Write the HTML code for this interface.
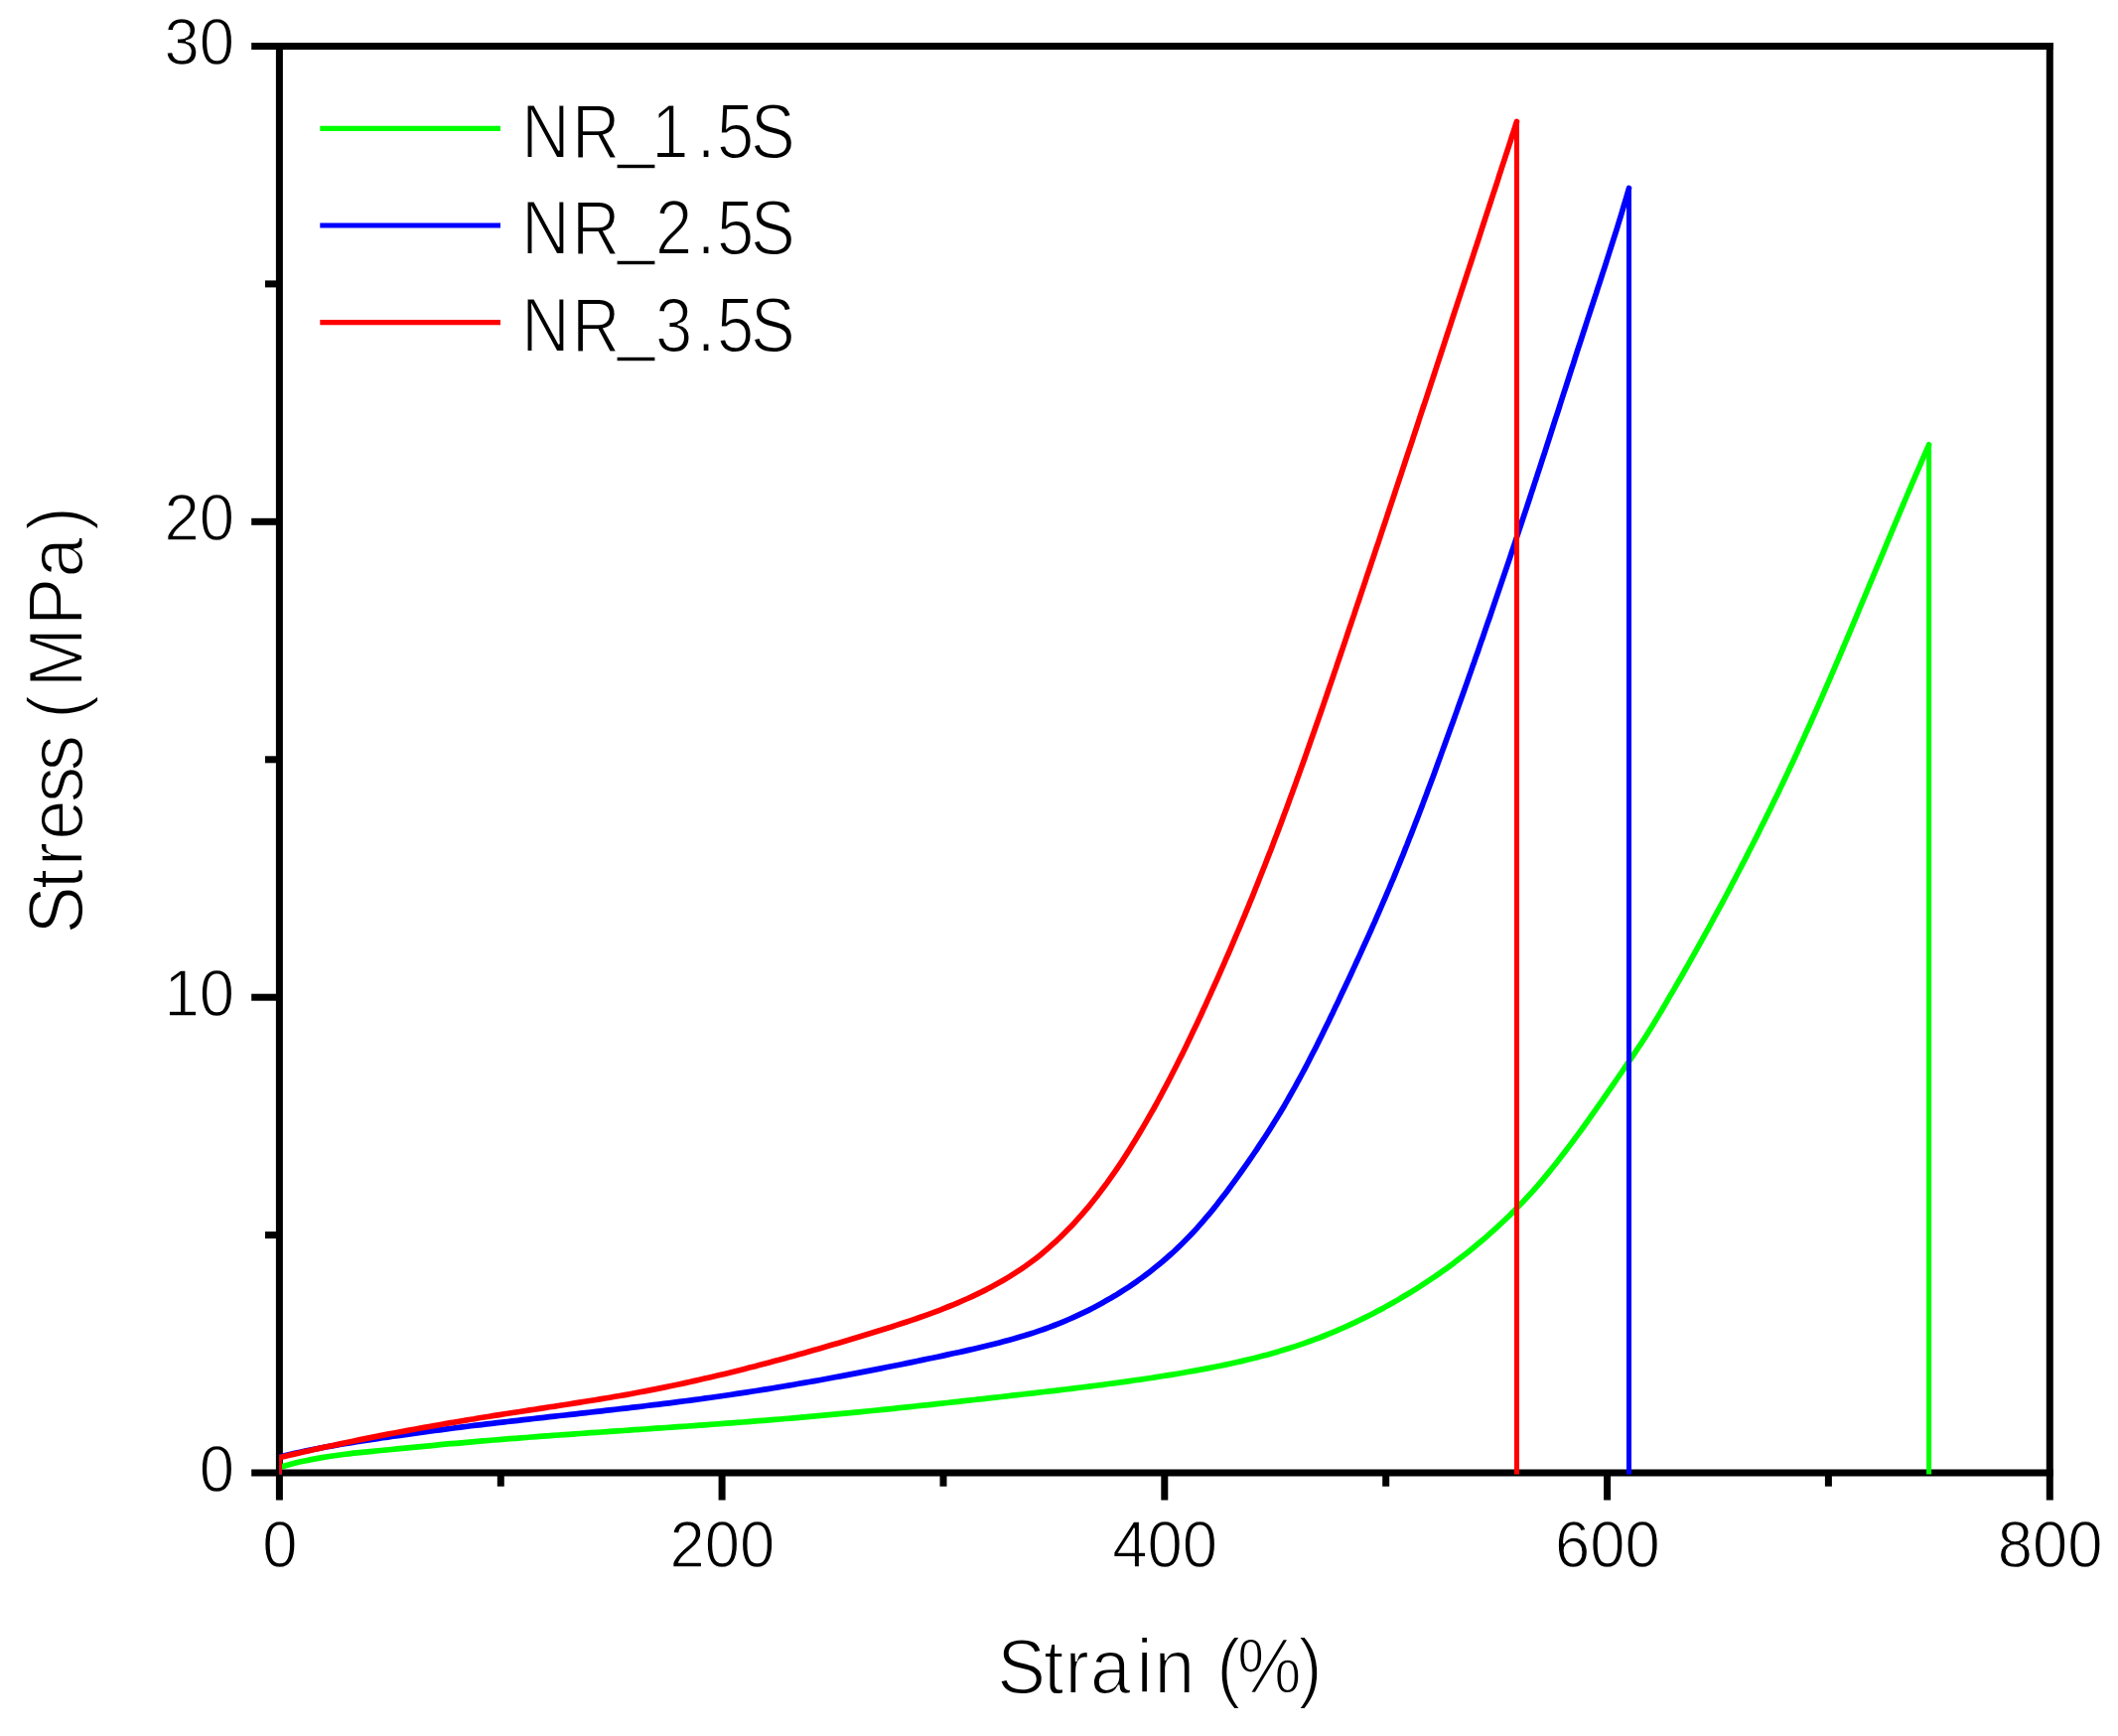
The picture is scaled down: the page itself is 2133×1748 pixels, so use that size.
<!DOCTYPE html>
<html><head><meta charset="utf-8"><title>Stress-Strain</title>
<style>
html,body{margin:0;padding:0;background:#fff;}
body{width:2133px;height:1748px;overflow:hidden;}
svg{display:block;}
text{font-family:"Liberation Sans",sans-serif;fill:#000;}
.tk{font-size:67.3px;stroke:#fff;stroke-width:1.3px;}
.lb{font-size:77px;stroke:#fff;stroke-width:1.8px;}
</style></head><body>
<svg width="2133" height="1748" viewBox="0 0 2133 1748">
<rect width="2133" height="1748" fill="#fff"/>
<g stroke="#000" stroke-width="7" fill="none" stroke-linecap="butt">
<line x1="281.4" y1="43.0" x2="281.4" y2="1510.5"/>
<line x1="2064.3" y1="43.0" x2="2064.3" y2="1510.5"/>
<line x1="253.2" y1="46.5" x2="2067.8" y2="46.5"/>
<line x1="253.2" y1="1483.0" x2="2067.8" y2="1483.0"/>
<line x1="727.1" y1="1483.0" x2="727.1" y2="1510.5"/>
<line x1="1172.8" y1="1483.0" x2="1172.8" y2="1510.5"/>
<line x1="1618.6" y1="1483.0" x2="1618.6" y2="1510.5"/>
<line x1="504.3" y1="1483.0" x2="504.3" y2="1496.7"/>
<line x1="950.0" y1="1483.0" x2="950.0" y2="1496.7"/>
<line x1="1395.7" y1="1483.0" x2="1395.7" y2="1496.7"/>
<line x1="1841.4" y1="1483.0" x2="1841.4" y2="1496.7"/>
<line x1="253.2" y1="1004.2" x2="281.4" y2="1004.2"/>
<line x1="253.2" y1="525.3" x2="281.4" y2="525.3"/>
<line x1="267.0" y1="1243.6" x2="281.4" y2="1243.6"/>
<line x1="267.0" y1="764.8" x2="281.4" y2="764.8"/>
<line x1="267.0" y1="285.9" x2="281.4" y2="285.9"/>
</g>
<clipPath id="cp"><rect x="281.2" y="40" width="1800" height="1444.5"/></clipPath>
<g clip-path="url(#cp)">
<polyline points="281.4,1477.5 286.7,1475.9 292.1,1474.5 297.5,1473.1 302.8,1471.8 308.2,1470.7 313.5,1469.6 318.9,1468.6 324.3,1467.6 329.6,1466.8 335.0,1466.0 340.4,1465.2 345.8,1464.5 351.1,1463.9 356.5,1463.2 361.9,1462.7 367.3,1462.1 372.7,1461.6 378.1,1461.0 383.5,1460.5 388.9,1460.0 394.3,1459.5 399.7,1458.9 405.1,1458.4 410.5,1457.9 415.9,1457.3 421.3,1456.8 426.7,1456.3 432.1,1455.8 437.5,1455.3 442.9,1454.7 448.3,1454.2 453.8,1453.7 459.2,1453.3 464.6,1452.8 470.0,1452.3 475.4,1451.8 480.9,1451.4 486.3,1450.9 491.7,1450.5 497.1,1450.0 502.6,1449.6 508.0,1449.1 513.4,1448.7 518.9,1448.3 524.3,1447.9 529.7,1447.5 535.2,1447.0 540.6,1446.6 546.0,1446.2 551.5,1445.8 556.9,1445.4 562.4,1445.0 567.8,1444.6 573.2,1444.3 578.7,1443.9 584.1,1443.5 589.6,1443.1 595.0,1442.7 600.4,1442.4 605.9,1442.0 611.3,1441.6 616.8,1441.2 622.2,1440.9 627.7,1440.5 633.1,1440.1 638.6,1439.7 644.0,1439.4 649.5,1439.0 654.9,1438.6 660.4,1438.2 665.8,1437.9 671.3,1437.5 676.7,1437.1 682.2,1436.7 687.6,1436.4 693.1,1436.0 698.5,1435.6 704.0,1435.2 709.4,1434.8 714.8,1434.4 720.3,1434.0 725.7,1433.6 731.2,1433.2 736.6,1432.8 742.1,1432.4 747.5,1432.0 753.0,1431.6 758.4,1431.2 763.9,1430.7 769.3,1430.3 774.7,1429.9 780.2,1429.4 785.6,1429.0 791.1,1428.5 796.5,1428.1 801.9,1427.6 807.4,1427.1 812.8,1426.7 818.3,1426.2 823.7,1425.7 829.1,1425.2 834.6,1424.7 840.0,1424.2 845.4,1423.7 850.9,1423.2 856.3,1422.6 861.7,1422.1 867.1,1421.6 872.6,1421.0 878.0,1420.5 883.4,1420.0 888.8,1419.4 894.3,1418.9 899.7,1418.3 905.1,1417.7 910.5,1417.2 916.0,1416.6 921.4,1416.0 926.8,1415.4 932.2,1414.9 937.6,1414.3 943.1,1413.7 948.5,1413.1 953.9,1412.5 959.3,1411.9 964.7,1411.3 970.1,1410.7 975.5,1410.1 981.0,1409.5 986.4,1408.9 991.8,1408.3 997.2,1407.7 1002.6,1407.1 1008.0,1406.5 1013.4,1405.9 1018.8,1405.2 1024.2,1404.6 1029.6,1404.0 1035.0,1403.4 1040.4,1402.8 1045.8,1402.1 1051.2,1401.5 1056.6,1400.9 1062.0,1400.3 1067.4,1399.6 1072.8,1399.0 1078.2,1398.3 1083.6,1397.7 1089.0,1397.0 1094.4,1396.3 1099.8,1395.6 1105.2,1395.0 1110.6,1394.3 1116.0,1393.5 1121.4,1392.8 1126.8,1392.1 1132.2,1391.4 1137.6,1390.6 1143.0,1389.8 1148.4,1389.1 1153.7,1388.3 1159.1,1387.5 1164.5,1386.6 1169.9,1385.8 1175.3,1384.9 1180.7,1384.1 1186.1,1383.2 1191.5,1382.3 1196.8,1381.3 1202.2,1380.4 1207.6,1379.4 1212.9,1378.4 1218.3,1377.4 1223.7,1376.3 1229.0,1375.2 1234.4,1374.1 1239.7,1373.0 1245.0,1371.8 1250.3,1370.6 1255.7,1369.3 1261.0,1368.0 1266.2,1366.7 1271.5,1365.3 1276.8,1363.9 1282.0,1362.4 1287.3,1360.9 1292.5,1359.3 1297.7,1357.7 1302.9,1356.1 1308.1,1354.4 1313.3,1352.6 1318.4,1350.8 1323.5,1348.9 1328.7,1347.0 1333.7,1345.0 1338.8,1342.9 1343.9,1340.8 1348.9,1338.7 1353.9,1336.5 1358.9,1334.2 1363.9,1331.9 1368.8,1329.5 1373.7,1327.1 1378.6,1324.7 1383.5,1322.2 1388.3,1319.6 1393.2,1317.1 1397.9,1314.4 1402.7,1311.8 1407.4,1309.1 1412.1,1306.3 1416.8,1303.5 1421.5,1300.7 1426.1,1297.8 1430.7,1294.9 1435.2,1291.9 1439.8,1288.9 1444.3,1285.9 1448.7,1282.8 1453.2,1279.7 1457.6,1276.6 1462.0,1273.4 1466.3,1270.1 1470.6,1266.8 1474.9,1263.5 1479.1,1260.2 1483.4,1256.7 1487.5,1253.3 1491.7,1249.8 1495.8,1246.3 1499.9,1242.7 1503.9,1239.1 1508.0,1235.4 1511.9,1231.7 1515.9,1228.0 1519.8,1224.2 1523.7,1220.4 1527.5,1216.5 1531.3,1212.6 1535.1,1208.7 1538.8,1204.6 1542.5,1200.6 1546.2,1196.5 1549.8,1192.3 1553.4,1188.1 1556.9,1183.9 1560.4,1179.6 1563.9,1175.3 1567.4,1171.0 1570.8,1166.6 1574.1,1162.3 1577.4,1158.0 1580.7,1153.6 1584.0,1149.3 1587.2,1144.9 1590.4,1140.6 1593.6,1136.2 1596.8,1131.8 1599.9,1127.4 1603.0,1123.0 1606.1,1118.6 1609.2,1114.2 1612.3,1109.8 1615.4,1105.3 1618.5,1100.9 1621.6,1096.4 1624.7,1091.9 1627.7,1087.5 1630.8,1083.0 1633.9,1078.5 1637.0,1073.9 1640.1,1069.4 1643.2,1064.8 1646.3,1060.3 1649.4,1055.7 1652.5,1051.1 1655.5,1046.5 1658.4,1041.9 1661.3,1037.3 1664.2,1032.7 1667.0,1028.1 1669.8,1023.4 1672.6,1018.8 1675.3,1014.1 1678.1,1009.4 1680.8,1004.7 1683.5,1000.1 1686.3,995.4 1689.0,990.7 1691.7,986.0 1694.4,981.3 1697.1,976.5 1699.8,971.8 1702.4,967.1 1705.1,962.3 1707.8,957.6 1710.4,952.9 1713.1,948.1 1715.7,943.3 1718.3,938.6 1721.0,933.8 1723.6,929.0 1726.2,924.2 1728.8,919.4 1731.4,914.6 1734.0,909.8 1736.6,905.0 1739.1,900.2 1741.7,895.3 1744.2,890.5 1746.8,885.7 1749.3,880.8 1751.8,876.0 1754.3,871.1 1756.9,866.3 1759.4,861.4 1761.8,856.5 1764.3,851.7 1766.8,846.8 1769.3,841.9 1771.7,837.0 1774.1,832.1 1776.6,827.2 1779.0,822.3 1781.4,817.4 1783.8,812.5 1786.2,807.6 1788.6,802.7 1791.0,797.8 1793.3,792.9 1795.7,787.9 1798.0,783.0 1800.3,778.1 1802.7,773.1 1805.0,768.2 1807.3,763.2 1809.6,758.3 1811.8,753.3 1814.1,748.4 1816.4,743.4 1818.6,738.4 1820.8,733.5 1823.1,728.5 1825.3,723.5 1827.5,718.6 1829.7,713.6 1831.9,708.6 1834.1,703.6 1836.3,698.6 1838.4,693.6 1840.6,688.6 1842.8,683.7 1844.9,678.7 1847.1,673.7 1849.2,668.7 1851.4,663.7 1853.5,658.7 1855.6,653.6 1857.7,648.6 1859.9,643.6 1862.0,638.6 1864.1,633.6 1866.2,628.6 1868.3,623.6 1870.4,618.6 1872.5,613.5 1874.6,608.5 1876.7,603.5 1878.8,598.5 1880.9,593.5 1883.0,588.4 1885.1,583.4 1887.2,578.4 1889.3,573.4 1891.4,568.3 1893.5,563.3 1895.6,558.3 1897.7,553.3 1899.8,548.2 1901.9,543.2 1904.0,538.2 1906.1,533.2 1908.2,528.1 1910.3,523.1 1912.4,518.1 1914.5,513.1 1916.7,508.0 1918.8,503.0 1920.9,498.0 1923.1,493.0 1925.2,487.9 1927.4,482.9 1929.5,477.9 1931.7,472.9 1933.9,467.9 1936.0,462.8 1938.2,457.8 1940.4,452.8 1942.6,447.8" fill="none" stroke="#00ff00" stroke-width="5.7" stroke-linejoin="round" stroke-linecap="round"/><path d="M281.4,1477.5V1486.0M1942.6,447.8V1486.0" fill="none" stroke="#00ff00" stroke-width="5"/>
<polyline points="281.4,1467.0 286.6,1465.7 291.7,1464.5 296.9,1463.3 302.1,1462.2 307.3,1461.1 312.4,1460.0 317.6,1459.0 322.8,1458.0 328.0,1457.0 333.2,1456.1 338.4,1455.2 343.6,1454.3 348.8,1453.4 354.0,1452.6 359.2,1451.8 364.4,1451.0 369.6,1450.2 374.8,1449.4 380.0,1448.6 385.3,1447.8 390.5,1447.1 395.7,1446.3 400.9,1445.6 406.1,1444.9 411.4,1444.1 416.6,1443.4 421.8,1442.7 427.1,1441.9 432.3,1441.2 437.5,1440.5 442.8,1439.8 448.0,1439.2 453.3,1438.5 458.5,1437.8 463.7,1437.2 469.0,1436.5 474.2,1435.8 479.5,1435.2 484.7,1434.6 490.0,1433.9 495.2,1433.3 500.5,1432.7 505.7,1432.1 511.0,1431.5 516.2,1430.9 521.5,1430.3 526.7,1429.7 532.0,1429.1 537.3,1428.5 542.5,1427.9 547.8,1427.3 553.0,1426.7 558.3,1426.1 563.5,1425.5 568.8,1425.0 574.0,1424.4 579.3,1423.8 584.6,1423.2 589.8,1422.6 595.1,1422.0 600.3,1421.4 605.6,1420.8 610.8,1420.2 616.1,1419.6 621.3,1419.0 626.6,1418.4 631.8,1417.8 637.1,1417.2 642.3,1416.6 647.6,1416.0 652.8,1415.3 658.1,1414.7 663.3,1414.1 668.6,1413.4 673.8,1412.8 679.1,1412.1 684.3,1411.4 689.5,1410.7 694.8,1410.1 700.0,1409.4 705.2,1408.7 710.5,1407.9 715.7,1407.2 720.9,1406.5 726.2,1405.7 731.4,1405.0 736.6,1404.2 741.8,1403.4 747.1,1402.7 752.3,1401.9 757.5,1401.0 762.7,1400.2 767.9,1399.4 773.1,1398.6 778.3,1397.7 783.5,1396.9 788.7,1396.0 793.9,1395.1 799.2,1394.2 804.4,1393.3 809.6,1392.4 814.8,1391.5 819.9,1390.6 825.1,1389.7 830.3,1388.7 835.5,1387.8 840.7,1386.8 845.9,1385.9 851.1,1384.9 856.3,1383.9 861.5,1382.9 866.7,1381.9 871.9,1380.9 877.1,1379.9 882.2,1378.9 887.4,1377.9 892.6,1376.8 897.8,1375.8 903.0,1374.8 908.2,1373.7 913.4,1372.6 918.5,1371.6 923.7,1370.5 928.9,1369.4 934.1,1368.3 939.3,1367.3 944.4,1366.2 949.6,1365.1 954.8,1363.9 960.0,1362.8 965.2,1361.7 970.3,1360.6 975.5,1359.4 980.7,1358.2 985.8,1357.0 991.0,1355.8 996.1,1354.6 1001.3,1353.3 1006.4,1352.0 1011.5,1350.6 1016.6,1349.2 1021.7,1347.8 1026.7,1346.3 1031.8,1344.8 1036.8,1343.2 1041.9,1341.6 1046.9,1339.9 1051.8,1338.2 1056.8,1336.4 1061.7,1334.5 1066.6,1332.6 1071.5,1330.6 1076.4,1328.5 1081.2,1326.4 1086.0,1324.2 1090.8,1321.9 1095.6,1319.6 1100.3,1317.2 1105.0,1314.7 1109.6,1312.2 1114.2,1309.6 1118.8,1307.0 1123.4,1304.3 1127.9,1301.5 1132.3,1298.7 1136.8,1295.8 1141.1,1292.8 1145.5,1289.8 1149.8,1286.7 1154.0,1283.6 1158.2,1280.4 1162.4,1277.1 1166.5,1273.8 1170.5,1270.5 1174.5,1267.0 1178.5,1263.5 1182.4,1260.0 1186.2,1256.4 1190.0,1252.7 1193.7,1249.0 1197.4,1245.3 1201.0,1241.5 1204.6,1237.6 1208.1,1233.7 1211.6,1229.7 1215.0,1225.7 1218.4,1221.7 1221.7,1217.6 1225.0,1213.5 1228.2,1209.3 1231.5,1205.1 1234.7,1200.9 1237.8,1196.7 1241.0,1192.4 1244.1,1188.1 1247.2,1183.8 1250.3,1179.5 1253.4,1175.1 1256.4,1170.8 1259.5,1166.4 1262.5,1162.0 1265.5,1157.6 1268.4,1153.1 1271.4,1148.7 1274.3,1144.3 1277.2,1139.8 1280.0,1135.3 1282.8,1130.8 1285.6,1126.3 1288.4,1121.8 1291.1,1117.2 1293.8,1112.7 1296.4,1108.1 1299.0,1103.5 1301.6,1098.9 1304.2,1094.3 1306.7,1089.7 1309.2,1085.1 1311.7,1080.5 1314.2,1075.8 1316.6,1071.2 1319.0,1066.5 1321.4,1061.8 1323.8,1057.2 1326.2,1052.5 1328.5,1047.8 1330.9,1043.0 1333.2,1038.3 1335.5,1033.6 1337.8,1028.9 1340.1,1024.1 1342.4,1019.4 1344.6,1014.6 1346.9,1009.9 1349.2,1005.1 1351.4,1000.3 1353.7,995.5 1355.9,990.8 1358.2,986.0 1360.4,981.2 1362.6,976.4 1364.8,971.6 1367.0,966.8 1369.3,961.9 1371.4,957.1 1373.6,952.3 1375.8,947.5 1378.0,942.6 1380.2,937.8 1382.3,932.9 1384.5,928.1 1386.6,923.2 1388.7,918.4 1390.8,913.5 1392.9,908.7 1395.0,903.8 1397.1,898.9 1399.2,894.0 1401.2,889.1 1403.3,884.3 1405.3,879.4 1407.3,874.5 1409.3,869.6 1411.3,864.7 1413.3,859.8 1415.2,854.9 1417.2,850.0 1419.1,845.0 1421.1,840.1 1423.0,835.2 1424.9,830.3 1426.8,825.4 1428.7,820.4 1430.6,815.5 1432.5,810.6 1434.3,805.6 1436.2,800.7 1438.0,795.8 1439.9,790.8 1441.7,785.9 1443.6,780.9 1445.4,776.0 1447.2,771.0 1449.0,766.1 1450.8,761.1 1452.6,756.1 1454.4,751.2 1456.2,746.2 1458.0,741.3 1459.8,736.3 1461.6,731.3 1463.4,726.4 1465.2,721.4 1467.0,716.4 1468.7,711.5 1470.5,706.5 1472.3,701.5 1474.1,696.5 1475.8,691.6 1477.6,686.6 1479.3,681.6 1481.1,676.6 1482.8,671.6 1484.6,666.7 1486.3,661.7 1488.1,656.7 1489.8,651.7 1491.5,646.7 1493.3,641.7 1495.0,636.7 1496.7,631.7 1498.4,626.7 1500.2,621.7 1501.9,616.7 1503.6,611.7 1505.3,606.7 1507.0,601.7 1508.7,596.7 1510.4,591.7 1512.1,586.7 1513.8,581.7 1515.5,576.7 1517.2,571.7 1518.9,566.7 1520.6,561.7 1522.2,556.7 1523.9,551.7 1525.6,546.7 1527.3,541.7 1528.9,536.7 1530.6,531.6 1532.3,526.6 1533.9,521.6 1535.6,516.6 1537.3,511.6 1538.9,506.6 1540.6,501.5 1542.2,496.5 1543.9,491.5 1545.5,486.5 1547.2,481.5 1548.8,476.4 1550.5,471.4 1552.1,466.4 1553.7,461.4 1555.4,456.3 1557.0,451.3 1558.6,446.3 1560.3,441.2 1561.9,436.2 1563.5,431.2 1565.1,426.2 1566.7,421.1 1568.4,416.1 1570.0,411.1 1571.6,406.0 1573.2,401.0 1574.8,396.0 1576.5,390.9 1578.1,385.9 1579.7,380.9 1581.3,375.8 1582.9,370.8 1584.6,365.8 1586.2,360.7 1587.8,355.7 1589.4,350.7 1591.1,345.6 1592.7,340.6 1594.3,335.6 1596.0,330.5 1597.6,325.5 1599.2,320.5 1600.9,315.4 1602.5,310.4 1604.2,305.3 1605.8,300.3 1607.5,295.3 1609.1,290.2 1610.8,285.2 1612.4,280.2 1614.0,275.1 1615.7,270.1 1617.3,265.1 1618.9,260.0 1620.5,255.0 1622.1,249.9 1623.7,244.9 1625.3,239.9 1626.9,234.8 1628.5,229.8 1630.0,224.8 1631.6,219.7 1633.1,214.7 1634.6,209.6 1636.1,204.6 1637.6,199.6 1639.1,194.5 1640.5,189.5" fill="none" stroke="#0000ff" stroke-width="5.7" stroke-linejoin="round" stroke-linecap="round"/><path d="M281.4,1467.0V1486.0M1640.5,189.5V1486.0" fill="none" stroke="#0000ff" stroke-width="5"/>
<polyline points="281.4,1467.6 286.4,1466.4 291.4,1465.2 296.4,1464.1 301.4,1462.9 306.4,1461.8 311.4,1460.7 316.4,1459.5 321.4,1458.4 326.4,1457.3 331.4,1456.3 336.5,1455.2 341.5,1454.1 346.5,1453.0 351.5,1452.0 356.5,1451.0 361.6,1449.9 366.6,1448.9 371.6,1447.9 376.7,1446.9 381.7,1445.9 386.7,1444.9 391.8,1443.9 396.8,1443.0 401.9,1442.0 406.9,1441.1 411.9,1440.1 417.0,1439.2 422.0,1438.3 427.1,1437.4 432.1,1436.5 437.2,1435.6 442.2,1434.7 447.3,1433.8 452.3,1432.9 457.4,1432.1 462.4,1431.2 467.5,1430.4 472.5,1429.5 477.6,1428.7 482.6,1427.8 487.7,1427.0 492.7,1426.2 497.8,1425.4 502.9,1424.6 507.9,1423.8 513.0,1423.0 518.0,1422.2 523.1,1421.5 528.1,1420.7 533.2,1419.9 538.2,1419.2 543.3,1418.4 548.4,1417.6 553.4,1416.8 558.5,1416.1 563.5,1415.3 568.6,1414.5 573.6,1413.7 578.7,1412.9 583.7,1412.1 588.8,1411.3 593.8,1410.5 598.9,1409.7 603.9,1408.9 609.0,1408.0 614.0,1407.2 619.1,1406.3 624.1,1405.5 629.2,1404.6 634.2,1403.7 639.2,1402.7 644.3,1401.8 649.3,1400.9 654.3,1399.9 659.4,1398.9 664.4,1397.9 669.4,1396.9 674.5,1395.8 679.5,1394.8 684.5,1393.7 689.6,1392.6 694.6,1391.5 699.6,1390.4 704.6,1389.3 709.6,1388.1 714.6,1387.0 719.7,1385.8 724.7,1384.6 729.7,1383.4 734.7,1382.2 739.7,1380.9 744.7,1379.7 749.7,1378.4 754.7,1377.1 759.6,1375.9 764.6,1374.6 769.6,1373.3 774.6,1371.9 779.6,1370.6 784.6,1369.3 789.5,1367.9 794.5,1366.5 799.5,1365.2 804.4,1363.8 809.4,1362.4 814.3,1361.0 819.3,1359.6 824.2,1358.2 829.2,1356.7 834.1,1355.3 839.1,1353.8 844.0,1352.4 848.9,1350.9 853.8,1349.5 858.8,1348.0 863.7,1346.5 868.6,1345.0 873.5,1343.5 878.4,1342.0 883.2,1340.5 888.1,1339.0 893.0,1337.5 897.9,1336.0 902.7,1334.4 907.6,1332.8 912.4,1331.2 917.2,1329.6 922.1,1328.0 926.9,1326.3 931.7,1324.6 936.5,1322.9 941.3,1321.1 946.1,1319.3 950.9,1317.4 955.6,1315.5 960.4,1313.6 965.1,1311.6 969.8,1309.5 974.5,1307.5 979.2,1305.3 983.8,1303.1 988.5,1300.9 993.1,1298.6 997.6,1296.2 1002.1,1293.8 1006.6,1291.3 1011.1,1288.7 1015.5,1286.1 1019.8,1283.4 1024.1,1280.7 1028.4,1277.9 1032.6,1275.0 1036.7,1272.0 1040.8,1269.0 1044.8,1265.9 1048.8,1262.7 1052.7,1259.4 1056.5,1256.1 1060.3,1252.7 1064.1,1249.3 1067.8,1245.8 1071.4,1242.2 1075.0,1238.6 1078.6,1234.9 1082.1,1231.2 1085.5,1227.4 1088.9,1223.6 1092.3,1219.7 1095.6,1215.8 1098.9,1211.8 1102.1,1207.8 1105.3,1203.7 1108.4,1199.6 1111.5,1195.5 1114.6,1191.4 1117.6,1187.2 1120.6,1182.9 1123.6,1178.7 1126.5,1174.4 1129.4,1170.1 1132.2,1165.7 1135.0,1161.4 1137.8,1157.0 1140.5,1152.6 1143.2,1148.2 1145.9,1143.8 1148.6,1139.3 1151.2,1134.9 1153.8,1130.4 1156.4,1125.9 1158.9,1121.4 1161.5,1117.0 1164.0,1112.5 1166.4,1108.0 1168.9,1103.5 1171.3,1098.9 1173.7,1094.4 1176.1,1089.9 1178.5,1085.3 1180.8,1080.8 1183.1,1076.3 1185.4,1071.7 1187.7,1067.1 1190.0,1062.6 1192.3,1058.0 1194.5,1053.4 1196.7,1048.8 1198.9,1044.2 1201.1,1039.6 1203.3,1035.0 1205.5,1030.4 1207.7,1025.8 1209.8,1021.2 1211.9,1016.5 1214.1,1011.9 1216.2,1007.2 1218.3,1002.6 1220.4,997.9 1222.5,993.3 1224.6,988.6 1226.7,984.0 1228.7,979.3 1230.8,974.6 1232.9,969.9 1234.9,965.2 1237.0,960.5 1239.0,955.8 1241.0,951.1 1243.0,946.4 1245.0,941.7 1247.0,937.0 1249.0,932.3 1251.0,927.5 1253.0,922.8 1254.9,918.1 1256.9,913.3 1258.8,908.6 1260.8,903.8 1262.7,899.1 1264.6,894.3 1266.5,889.6 1268.4,884.8 1270.3,880.0 1272.2,875.3 1274.1,870.5 1275.9,865.7 1277.8,860.9 1279.7,856.2 1281.5,851.4 1283.3,846.6 1285.2,841.8 1287.0,837.0 1288.8,832.2 1290.6,827.4 1292.4,822.6 1294.2,817.8 1296.0,812.9 1297.8,808.1 1299.5,803.3 1301.3,798.5 1303.0,793.7 1304.8,788.9 1306.5,784.0 1308.3,779.2 1310.0,774.4 1311.8,769.5 1313.5,764.7 1315.2,759.9 1316.9,755.0 1318.6,750.2 1320.3,745.3 1322.0,740.5 1323.7,735.7 1325.4,730.8 1327.1,726.0 1328.8,721.1 1330.5,716.3 1332.2,711.4 1333.8,706.6 1335.5,701.7 1337.2,696.8 1338.8,692.0 1340.5,687.1 1342.2,682.3 1343.8,677.4 1345.5,672.6 1347.1,667.7 1348.8,662.8 1350.4,658.0 1352.1,653.1 1353.7,648.3 1355.4,643.4 1357.0,638.5 1358.6,633.7 1360.3,628.8 1361.9,623.9 1363.6,619.1 1365.2,614.2 1366.8,609.4 1368.5,604.5 1370.1,599.6 1371.7,594.8 1373.4,589.9 1375.0,585.1 1376.6,580.2 1378.3,575.3 1379.9,570.5 1381.5,565.6 1383.2,560.7 1384.8,555.9 1386.4,551.0 1388.1,546.2 1389.7,541.3 1391.3,536.4 1392.9,531.6 1394.6,526.7 1396.2,521.9 1397.8,517.0 1399.4,512.1 1401.0,507.3 1402.7,502.4 1404.3,497.5 1405.9,492.7 1407.5,487.8 1409.1,483.0 1410.8,478.1 1412.4,473.2 1414.0,468.4 1415.6,463.5 1417.2,458.6 1418.8,453.8 1420.5,448.9 1422.1,444.1 1423.7,439.2 1425.3,434.3 1426.9,429.5 1428.5,424.6 1430.1,419.7 1431.7,414.9 1433.3,410.0 1435.0,405.1 1436.6,400.3 1438.2,395.4 1439.8,390.6 1441.4,385.7 1443.0,380.8 1444.6,376.0 1446.2,371.1 1447.8,366.2 1449.4,361.4 1451.0,356.5 1452.6,351.6 1454.2,346.8 1455.8,341.9 1457.4,337.0 1459.0,332.2 1460.6,327.3 1462.2,322.4 1463.8,317.5 1465.4,312.7 1467.0,307.8 1468.6,302.9 1470.2,298.1 1471.8,293.2 1473.4,288.3 1475.0,283.5 1476.6,278.6 1478.2,273.7 1479.8,268.8 1481.4,264.0 1483.0,259.1 1484.6,254.2 1486.2,249.4 1487.8,244.5 1489.4,239.6 1491.0,234.7 1492.5,229.9 1494.1,225.0 1495.7,220.1 1497.3,215.2 1498.9,210.4 1500.5,205.5 1502.1,200.6 1503.7,195.7 1505.3,190.8 1506.9,186.0 1508.5,181.1 1510.0,176.2 1511.6,171.3 1513.2,166.4 1514.8,161.6 1516.4,156.7 1518.0,151.8 1519.6,146.9 1521.2,142.0 1522.7,137.2 1524.3,132.3 1525.9,127.4 1527.5,122.5" fill="none" stroke="#ff0000" stroke-width="5.7" stroke-linejoin="round" stroke-linecap="round"/><path d="M281.4,1467.6V1486.0M1527.5,122.5V1486.0" fill="none" stroke="#ff0000" stroke-width="5"/>
</g>
<text class="tk" transform="translate(281.8,1578) scale(0.942,1)" text-anchor="middle">0</text>
<text class="tk" transform="translate(727.5,1578) scale(0.942,1)" text-anchor="middle">200</text>
<text class="tk" transform="translate(1173.2,1578) scale(0.942,1)" text-anchor="middle">400</text>
<text class="tk" transform="translate(1619.0,1578) scale(0.942,1)" text-anchor="middle">600</text>
<text class="tk" transform="translate(2064.7,1578) scale(0.942,1)" text-anchor="middle">800</text>
<text class="tk" transform="translate(236,1501.8) scale(0.942,1)" text-anchor="end">0</text>
<text class="tk" transform="translate(236,1023.0) scale(0.942,1)" text-anchor="end">10</text>
<text class="tk" transform="translate(236,544.1) scale(0.942,1)" text-anchor="end">20</text>
<text class="tk" transform="translate(236,65.3) scale(0.942,1)" text-anchor="end">30</text>
<text class="lb" transform="translate(0,1705) scale(0.95,1)" x="1057.2 1106.2 1129.0 1155.9 1204.7 1223.6 1260.6 1289.7 1311.3 1376.0">Strain (%)</text>
<text class="lb" transform="translate(83.3,0) rotate(-90) scale(0.94,1)" x="-1000.6 -952.1 -927.7 -899.7 -859.5 -825.9 -790.9 -770.0 -736.5 -670.3 -618.7 -568.3">Stress (MPa)</text>
<line x1="322.3" y1="129.4" x2="504" y2="129.4" stroke="#00ff00" stroke-width="5.2"/>
<text class="lb" transform="translate(0,158.9) scale(0.87,1)" x="603.8 662.0 714.9 754.3 806.7 830.0 869.1">NR<tspan dy="-5.4" style="stroke-width:1.3px">_</tspan><tspan dy="5.4">1.5S</tspan></text>
<line x1="322.3" y1="227.0" x2="504" y2="227.0" stroke="#0000ff" stroke-width="5.2"/>
<text class="lb" transform="translate(0,256.3) scale(0.87,1)" x="603.8 662.0 714.9 758.6 806.7 830.0 869.1">NR<tspan dy="-5.4" style="stroke-width:1.3px">_</tspan><tspan dy="5.4">2.5S</tspan></text>
<line x1="322.3" y1="324.6" x2="504" y2="324.6" stroke="#ff0000" stroke-width="5.2"/>
<text class="lb" transform="translate(0,353.7) scale(0.87,1)" x="603.8 662.0 714.9 758.6 806.7 830.0 869.1">NR<tspan dy="-5.4" style="stroke-width:1.3px">_</tspan><tspan dy="5.4">3.5S</tspan></text>
</svg></body></html>
